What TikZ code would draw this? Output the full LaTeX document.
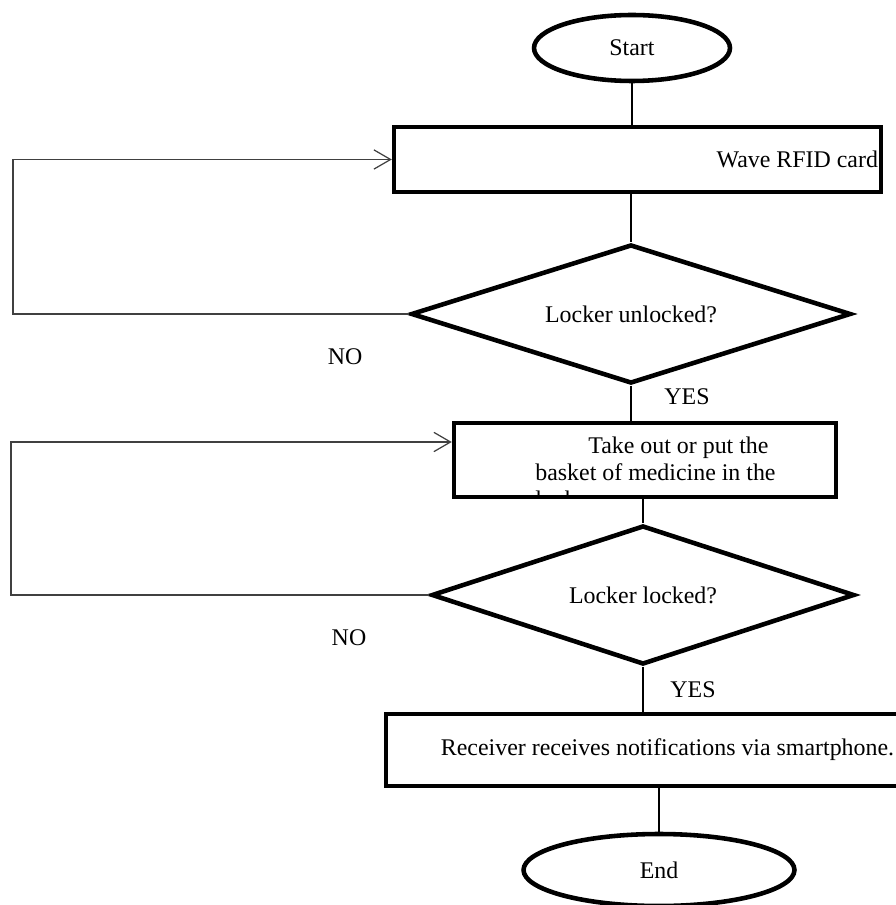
\documentclass[tikz,border=0pt]{standalone}
\usepackage{fontspec}
\setmainfont{Liberation Serif}
\usetikzlibrary{shapes.geometric,arrows.meta}

\begin{document}
\begin{tikzpicture}[x=0.02cm,y=-0.02cm,
    txt/.style={font=\fontsize{13.6}{15.3}\selectfont},
    terminal/.style={ellipse,draw,line width=2.6pt,inner sep=0pt,txt},
    process/.style={rectangle,draw,line width=2.6pt,inner sep=0pt,txt},
    decision/.style={diamond,aspect=3.2,draw,line width=2.6pt,inner sep=0pt,txt},
    flow/.style={line width=0.7pt},
    loopback/.style={draw=black!75,line width=0.7pt,-{Straight Barb[length=9.5pt,width=11pt]}}]
        \useasboundingbox (0,0) rectangle (895,905);

        % Testo tagliato nel riquadro
        \begin{scope}
            \clip (452,421) rectangle (838,495.5);
            \node[txt,anchor=north west,inner sep=0pt,align=left] (baskettext) at (535,437)
                {\hspace*{1.06cm}Take out or put the\\basket of medicine in the\\locker};
        \end{scope}

        % Blocchi
        \node[terminal,minimum width=3.92cm,minimum height=1.32cm] (start) at (632,48) {Start};
        \node[process,minimum width=9.74cm,minimum height=1.3cm,text width=9.62cm,align=flush right] (wave) at (637.5,159.5) {Wave RFID card};
        \node[decision,minimum width=8.8cm,minimum height=2.78cm] (unlocked) at (631,314) {Locker unlocked?};
        \node[process,minimum width=7.64cm,minimum height=1.48cm] (basket) at (645,460) {};
        \node[decision,minimum width=8.46cm,minimum height=2.78cm] (locked) at (643,595) {Locker locked?};
        \node[process,minimum width=11.26cm,minimum height=1.44cm] (notify) at (667.5,750) {Receiver receives notifications via smartphone.};
        \node[terminal,minimum width=5.42cm,minimum height=1.44cm] (end) at (659,870) {End};

        % Collegamenti
        \draw[flow] (start.south) -- (start.south |- wave.north);
        \draw[flow] (wave.south -| unlocked.north) -- (unlocked.north);
        \draw[flow] (unlocked.south) -- (unlocked.south |- basket.north);
        \draw[flow] (basket.south -| locked.north) -- (locked.north);
        \draw[flow] (locked.south) -- (locked.south |- notify.north);
        \draw[flow] (notify.south -| end.north) -- (end.north);

        % Ritorni NO
        \coordinate (back1) at (13,314);
        \draw[loopback] (unlocked.west) -- (back1) |- (wave.west);
        \coordinate (back2) at (11,595);
        \coordinate (back2top) at (11,442);
        \draw[loopback] (locked.west) -- (back2) -- (back2top) -- (back2top -| basket.west);

        % Etichette
        \node[txt] (no1) at (345,357) {NO};
        \node[txt] (yes1) at (687,397) {YES};
        \node[txt] (no2) at (349,638) {NO};
        \node[txt] (yes2) at (693,690) {YES};
    \end{tikzpicture}
\end{document}
